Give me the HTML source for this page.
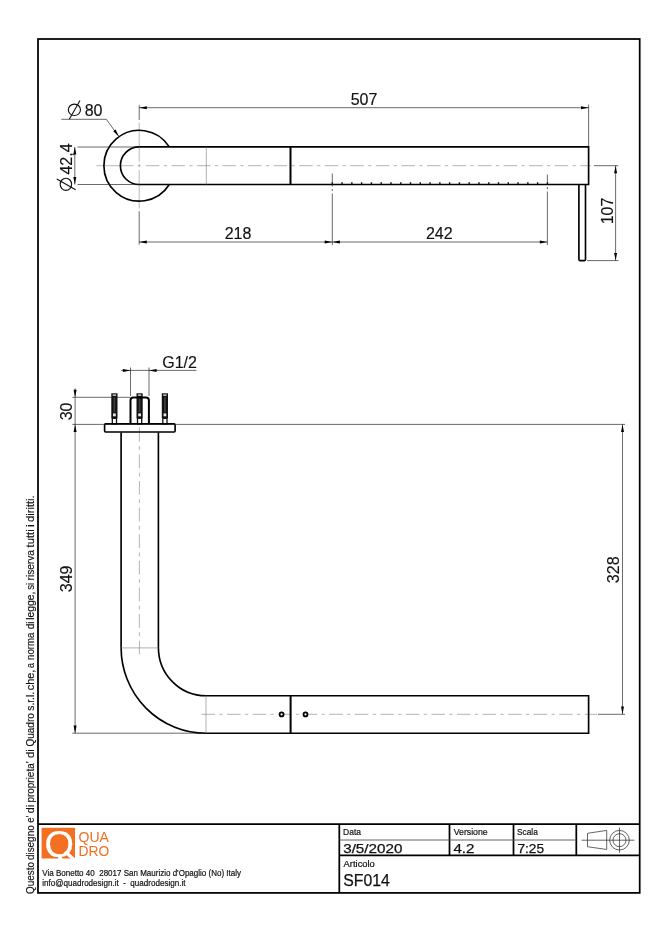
<!DOCTYPE html>
<html lang="it">
<head>
<meta charset="utf-8">
<title>SF014 - Quadro</title>
<style>
html,body{margin:0;padding:0;background:#fff;}
body{width:665px;height:940px;overflow:hidden;position:relative;}
svg{position:absolute;left:0;top:0;display:block;will-change:transform;}
text{font-family:"Liberation Sans",sans-serif;fill:#111;}
.dim{stroke:#111;stroke-width:0.15;}
.dim{font-size:16px;}
.thick{stroke:#000;stroke-width:1.65;fill:none;stroke-linecap:butt;stroke-linejoin:miter;}
.xthick{stroke:#000;stroke-width:2;fill:none;}
.thin{stroke:#1a1a1a;stroke-width:0.65;fill:none;}
.grey{stroke:#858585;stroke-width:0.65;fill:none;}
.cl{stroke:#8c8c8c;stroke-width:0.65;fill:none;stroke-dasharray:13.5 4.4 3.2 4.45;}
.cls{stroke:#8c8c8c;stroke-width:0.6;fill:none;}
.frame{stroke:#000;stroke-width:1.75;fill:none;}
.arr{fill:#000;stroke:none;}
.lbl{font-size:8.7px;stroke:#111;stroke-width:0.2;}
.note text{font-size:10.3px;stroke:#111;stroke-width:0.15;}
.val{stroke:#111;stroke-width:0.25;}
</style>
</head>
<body>
<svg width="665" height="940" viewBox="0 0 665 940">
<defs>
  <!-- arrow head pointing to +x, tip at 0,0 -->
  <path id="ah" d="M0 0 L-7.6 -1.5 L-7.6 1.5 Z"/>
</defs>

<!-- ================= FRAME ================= -->
<g id="frame">
  <rect class="frame" x="38" y="39" width="601.7" height="853.9"/>
  <line class="frame" x1="38" y1="824" x2="639.7" y2="824"/>
  <line class="frame" x1="339.3" y1="824" x2="339.3" y2="892.9"/>
  <line class="frame" x1="339.3" y1="855.3" x2="639.7" y2="855.3"/>
  <line class="frame" x1="449.5" y1="824" x2="449.5" y2="855.3"/>
  <line class="frame" x1="513.5" y1="824" x2="513.5" y2="855.3"/>
  <line class="frame" x1="576.3" y1="824" x2="576.3" y2="855.3"/>
  <line x1="339.3" y1="840" x2="576.3" y2="840" stroke="#555" stroke-width="0.9"/>
</g>

<!-- ================= TOP VIEW ================= -->
<g id="topview">
  <!-- centre lines -->
  <line class="cls" x1="96.3" y1="165.7" x2="133.6" y2="165.7"/>
  <line class="cls" x1="137.6" y1="165.7" x2="140.8" y2="165.7"/>
  <line class="cl" x1="145.9" y1="165.7" x2="591" y2="165.7"/>
  <line class="cls" x1="139.2" y1="122.5" x2="139.2" y2="161.5"/>
  <line class="cls" x1="139.2" y1="164.2" x2="139.2" y2="167.2"/>
  <line class="cls" x1="139.2" y1="170" x2="139.2" y2="208.5"/>
  <!-- flange circle -->
  <path class="thick" d="M169.3 146.9 A35.4 35.4 0 1 0 169.3 184.5"/>
  <!-- tube -->
  <path class="thick" d="M139.2 146.9 A18.8 18.8 0 0 0 139.2 184.5"/>
  <path class="thick" d="M139.2 146.9 H588.6 V184.5 H139.2"/>
  <line class="grey" x1="206.3" y1="146.9" x2="206.3" y2="184.5"/>
  <line class="xthick" x1="290.5" y1="146.9" x2="290.5" y2="184.5"/>
  <!-- spout -->
  <path class="thick" d="M578.9 184.5 V259.6 Q578.9 260.6 579.9 260.6 H584.5 Q585.5 260.6 585.5 259.6 V184.5"/>
  <!-- nozzles -->
  <g id="nozzles" fill="#000">
    <rect x="331.60" y="182.3" width="1.4" height="1.6" />
    <rect x="341.38" y="182.3" width="1.4" height="1.6" />
    <rect x="351.15" y="182.3" width="1.4" height="1.6" />
    <rect x="360.93" y="182.3" width="1.4" height="1.6" />
    <rect x="370.71" y="182.3" width="1.4" height="1.6" />
    <rect x="380.49" y="182.3" width="1.4" height="1.6" />
    <rect x="390.26" y="182.3" width="1.4" height="1.6" />
    <rect x="400.04" y="182.3" width="1.4" height="1.6" />
    <rect x="409.82" y="182.3" width="1.4" height="1.6" />
    <rect x="419.60" y="182.3" width="1.4" height="1.6" />
    <rect x="429.37" y="182.3" width="1.4" height="1.6" />
    <rect x="439.15" y="182.3" width="1.4" height="1.6" />
    <rect x="448.93" y="182.3" width="1.4" height="1.6" />
    <rect x="458.70" y="182.3" width="1.4" height="1.6" />
    <rect x="468.48" y="182.3" width="1.4" height="1.6" />
    <rect x="478.26" y="182.3" width="1.4" height="1.6" />
    <rect x="488.04" y="182.3" width="1.4" height="1.6" />
    <rect x="497.81" y="182.3" width="1.4" height="1.6" />
    <rect x="507.59" y="182.3" width="1.4" height="1.6" />
    <rect x="517.37" y="182.3" width="1.4" height="1.6" />
    <rect x="527.15" y="182.3" width="1.4" height="1.6" />
    <rect x="536.92" y="182.3" width="1.4" height="1.6" />
    <rect x="546.70" y="182.3" width="1.4" height="1.6" />
  </g>
</g>

<!-- ================= TOP VIEW DIMENSIONS ================= -->
<g id="topdims">
  <!-- 507 -->
  <line class="thin" x1="139.2" y1="107.7" x2="588.6" y2="107.7"/>
  <line class="thin" x1="588.6" y1="104.5" x2="588.6" y2="146.9"/>
  <line class="thin" x1="139.2" y1="105" x2="139.2" y2="120"/>
  <line class="thin" x1="139.2" y1="211.2" x2="139.2" y2="244.6"/>
  <line class="thin" x1="593.9" y1="165.7" x2="618.3" y2="165.7"/>
  <use href="#ah" class="arr" transform="translate(588.6 107.7)"/>
  <use href="#ah" class="arr" transform="translate(139.2 107.7) rotate(180)"/>
  <text class="dim" x="364" y="104.7" text-anchor="middle">507</text>
  <!-- 218 / 242 -->
  <line class="thin" x1="139.2" y1="242" x2="547.4" y2="242"/>
  <line class="thin" x1="332.3" y1="173.5" x2="332.3" y2="245" stroke-dasharray="13 2.5 2 2.5 200"/>
  <line class="thin" x1="547.4" y1="174.5" x2="547.4" y2="245" stroke-dasharray="10 2.5 2 2.5 200"/>
  <use href="#ah" class="arr" transform="translate(139.2 242) rotate(180)"/>
  <use href="#ah" class="arr" transform="translate(332.3 242)"/>
  <use href="#ah" class="arr" transform="translate(332.3 242) rotate(180)"/>
  <use href="#ah" class="arr" transform="translate(547.4 242)"/>
  <text class="dim" x="238" y="238.8" text-anchor="middle">218</text>
  <text class="dim" x="439.3" y="238.8" text-anchor="middle">242</text>
  <!-- 107 -->
  <line class="thin" x1="615.6" y1="165.7" x2="615.6" y2="260.6"/>
  <line class="thin" x1="587" y1="260.6" x2="618.5" y2="260.6"/>
  <use href="#ah" class="arr" transform="translate(615.6 165.7) rotate(-90)"/>
  <use href="#ah" class="arr" transform="translate(615.6 260.6) rotate(90)"/>
  <text class="dim" transform="translate(613.2 211) rotate(-90)" text-anchor="middle">107</text>
  <!-- diameter 80 -->
  <path class="thin" d="M61.3 119.3 H106.3 L118.6 136.2"/>
  <use href="#ah" class="arr" transform="translate(118.9 136.6) rotate(54)"/>
  <ellipse cx="74.4" cy="109.8" rx="6.1" ry="5.7" fill="none" stroke="#111" stroke-width="1.15"/>
  <line x1="69.3" y1="119.3" x2="80" y2="100.6" stroke="#111" stroke-width="1.1"/>
  <text class="dim" x="84.7" y="116.2">80</text>
  <!-- diameter 42,4 -->
  <line class="thin" x1="74.8" y1="147" x2="74.8" y2="184.5"/>
  <line class="thin" x1="77.5" y1="147" x2="139.2" y2="147"/>
  <line class="thin" x1="77.5" y1="184.5" x2="139.2" y2="184.5"/>
  <use href="#ah" class="arr" transform="translate(74.8 147) rotate(-90)"/>
  <use href="#ah" class="arr" transform="translate(74.8 184.5) rotate(90)"/>
  <ellipse cx="65.9" cy="184.3" rx="5.7" ry="6.1" fill="none" stroke="#111" stroke-width="1.15"/>
  <line x1="75.6" y1="189.7" x2="56.8" y2="178.9" stroke="#111" stroke-width="1.1"/>
  <text class="dim" transform="translate(72.2 174.6) rotate(-90)">42,4</text>
</g>

<!-- ================= FRONT VIEW ================= -->
<g id="frontview">
  <!-- centre lines -->
  <line class="cl" x1="139.4" y1="427.2" x2="139.4" y2="656" style="stroke-dasharray:14.4 4.45 3.9 4.45 13.8 4.45 3.9 4.45 13.8 4.45 3.9 4.45 13.8 4.45 3.9 4.45 13.8 4.45 3.9 4.45 13.8 4.45 3.9 4.45 13.8 4.45 3.9 4.45 13.8 4.45 3.9 4.45 13.8 4.45 3.9 4.45 13.8 4.45 3.9 4.45"/>
  <line class="cl" x1="201.5" y1="714.3" x2="597" y2="714.3"/>
  <!-- bolts -->
  <g id="bolts">
    <g transform="translate(114.4 0)">
      <rect x="-3.1" y="393.3" width="6.2" height="25" fill="#111"/>
      <rect x="-1.7" y="394.3" width="3.4" height="1.7" fill="#b5b5b5"/>
      <rect x="-0.9" y="397.2" width="1.8" height="15" fill="#3c3c3c"/>
      <rect x="-1.4" y="413.4" width="2.8" height="2.9" fill="#e4e4e4"/>
      <rect x="-2.1" y="418.3" width="4.2" height="5.7" fill="#fff" stroke="#111" stroke-width="1.3"/>
    </g>
    <g transform="translate(139.6 0)">
      <rect x="-3.1" y="393.3" width="6.2" height="25" fill="#111"/>
      <rect x="-1.7" y="394.3" width="3.4" height="1.7" fill="#b5b5b5"/>
      <rect x="-0.9" y="397.2" width="1.8" height="15" fill="#3c3c3c"/>
      <rect x="-1.4" y="413.4" width="2.8" height="2.9" fill="#e4e4e4"/>
      <rect x="-2.1" y="418.3" width="4.2" height="5.7" fill="#fff" stroke="#111" stroke-width="1.3"/>
    </g>
    <g transform="translate(164.9 0)">
      <rect x="-3.1" y="393.3" width="6.2" height="25" fill="#111"/>
      <rect x="-1.7" y="394.3" width="3.4" height="1.7" fill="#b5b5b5"/>
      <rect x="-0.9" y="397.2" width="1.8" height="15" fill="#3c3c3c"/>
      <rect x="-1.4" y="413.4" width="2.8" height="2.9" fill="#e4e4e4"/>
      <rect x="-2.1" y="418.3" width="4.2" height="5.7" fill="#fff" stroke="#111" stroke-width="1.3"/>
    </g>
  </g>
  <!-- G1/2 inlet pipe -->
  <path class="thick" style="stroke-width:2" d="M130.5 424 V400.3 Q130.5 397.4 133.4 397.4 H146 Q148.9 397.4 148.9 400.3 V424"/>
  <!-- flange -->
  <rect class="thick" x="104.6" y="423.9" width="70.5" height="8.1" rx="1" ry="1" fill="#fff"/>
  <!-- tube -->
  <path class="thick" d="M121.1 432.5 V647.4 A84.9 85.8 0 0 0 206 733.2 H588.6 V695.7 H206 A47.6 48.3 0 0 1 158.4 647.4 V432.5"/>
  <line class="grey" x1="121.1" y1="647.9" x2="158.4" y2="647.9"/>
  <line class="grey" x1="206" y1="695.7" x2="206" y2="733.2"/>
  <line class="xthick" x1="290.6" y1="695.7" x2="290.6" y2="733.2"/>
  <circle cx="281.6" cy="714.4" r="1.95" fill="#fff" stroke="#000" stroke-width="1.8"/>
  <circle cx="305.5" cy="714.4" r="1.95" fill="#fff" stroke="#000" stroke-width="1.8"/>
</g>

<!-- ================= FRONT VIEW DIMENSIONS ================= -->
<g id="frontdims">
  <!-- G1/2 -->
  <line class="thin" x1="121.2" y1="370.4" x2="196.4" y2="370.4"/>
  <line class="thin" x1="130.5" y1="367.5" x2="130.5" y2="396"/>
  <line class="thin" x1="149" y1="367.5" x2="149" y2="396"/>
  <use href="#ah" class="arr" transform="translate(130.5 370.4)"/>
  <use href="#ah" class="arr" transform="translate(149 370.4) rotate(180)"/>
  <text class="dim" x="162.2" y="367.7">G1/2</text>
  <!-- 30 / 349 -->
  <line class="thin" x1="75.1" y1="388.3" x2="75.1" y2="733.2"/>
  <line class="thin" x1="72.3" y1="397.3" x2="130.4" y2="397.3"/>
  <line class="thin" x1="72.3" y1="424.4" x2="625" y2="424.4"/>
  <line class="thin" x1="72.3" y1="733.2" x2="206" y2="733.2"/>
  <use href="#ah" class="arr" transform="translate(75.1 397.3) rotate(90)"/>
  <use href="#ah" class="arr" transform="translate(75.1 424.4) rotate(-90)"/>
  <use href="#ah" class="arr" transform="translate(75.1 733.2) rotate(90)"/>
  <text class="dim" transform="translate(72 411.4) rotate(-90)" text-anchor="middle">30</text>
  <text class="dim" transform="translate(71.8 578.9) rotate(-90)" text-anchor="middle">349</text>
  <!-- 328 -->
  <line class="thin" x1="622.5" y1="424.4" x2="622.5" y2="714.3"/>
  <line class="thin" x1="598" y1="714.3" x2="625" y2="714.3"/>
  <use href="#ah" class="arr" transform="translate(622.5 424.4) rotate(-90)"/>
  <use href="#ah" class="arr" transform="translate(622.5 714.2) rotate(90)"/>
  <text class="dim" transform="translate(619.3 569.8) rotate(-90)" text-anchor="middle">328</text>
</g>

<!-- ================= TITLE BLOCK ================= -->
<g id="titleblock">
  <!-- logo -->
  <rect x="41.6" y="827.8" width="33.4" height="30.7" fill="#f36f21"/>
  <svg x="41.6" y="827.8" width="33.4" height="30.7" viewBox="41.6 827.8 33.4 30.7" overflow="hidden">
    <text transform="translate(59.1 856.6) scale(1.02 1)" text-anchor="middle" style="font-size:37.1px;fill:#fff;stroke:#fff;stroke-width:0.2">Q</text>
    <line x1="65.1" y1="851.8" x2="76" y2="861.3" stroke="#fff" stroke-width="3.2"/>
  </svg>
  <text x="78.5" y="841.5" style="font-size:14.2px;fill:#f36f21" textLength="30.4" lengthAdjust="spacingAndGlyphs">QUA</text>
  <text x="78.5" y="856" style="font-size:14.2px;fill:#f36f21" textLength="30.8" lengthAdjust="spacingAndGlyphs">DRO</text>
  <!-- address -->
  <text class="lbl" x="42.3" y="876.2" textLength="198.7" lengthAdjust="spacingAndGlyphs" xml:space="preserve">Via Bonetto 40  28017 San Maurizio d'Opaglio (No) Italy</text>
  <text class="lbl" x="42.3" y="886.3" textLength="143.2" lengthAdjust="spacingAndGlyphs" xml:space="preserve">info@quadrodesign.it  -  quadrodesign.it</text>
  <!-- fields -->
  <text class="lbl" x="343" y="835.3" textLength="18" lengthAdjust="spacingAndGlyphs">Data</text>
  <text class="lbl" x="453.7" y="835.3" textLength="34" lengthAdjust="spacingAndGlyphs">Versione</text>
  <text class="lbl" x="517.1" y="835.3" textLength="20.7" lengthAdjust="spacingAndGlyphs">Scala</text>
  <text class="lbl" x="343.6" y="867" textLength="31.2" lengthAdjust="spacingAndGlyphs">Articolo</text>
  <text class="val" x="343.2" y="853.2" style="font-size:12.2px" textLength="59.2" lengthAdjust="spacingAndGlyphs">3/5/2020</text>
  <text class="val" x="453.4" y="853.2" style="font-size:12.2px" textLength="21" lengthAdjust="spacingAndGlyphs">4.2</text>
  <text class="val" x="517.4" y="853.2" style="font-size:12.2px" textLength="26.6" lengthAdjust="spacingAndGlyphs">7:25</text>
  <text class="val" x="343.2" y="886.1" style="font-size:16.8px" textLength="46.6" lengthAdjust="spacingAndGlyphs">SF014</text>
  <!-- projection symbol -->
  <g stroke="#222" stroke-width="0.7" fill="none">
    <line x1="581.6" y1="840.2" x2="634.4" y2="840.2"/>
    <path d="M587.5 833.3 L606.7 830.4 V849.5 L587.5 846.7 Z"/>
    <circle cx="619.5" cy="840.2" r="9.8"/>
    <circle cx="619.5" cy="840.2" r="6.5"/>
    <line x1="619.5" y1="827.6" x2="619.5" y2="852.7"/>
  </g>
</g>

<!-- ================= SIDE NOTE ================= -->
<g id="sidenote" transform="translate(34 893.6) rotate(-90)" class="note">
  <text y="0"><tspan x="-0.4" textLength="32.1" lengthAdjust="spacingAndGlyphs">Questo</tspan> <tspan x="33.5" textLength="34.8" lengthAdjust="spacingAndGlyphs">disegno</tspan> <tspan x="70.9" textLength="7.1" lengthAdjust="spacingAndGlyphs">e'</tspan> <tspan x="80.4" textLength="8.3" lengthAdjust="spacingAndGlyphs">di</tspan> <tspan x="91.0" textLength="41.2" lengthAdjust="spacingAndGlyphs">proprieta'</tspan> <tspan x="135.6" textLength="8.9" lengthAdjust="spacingAndGlyphs">di</tspan> <tspan x="147.0" textLength="33.4" lengthAdjust="spacingAndGlyphs">Quadro</tspan> <tspan x="182.9" textLength="18.7" lengthAdjust="spacingAndGlyphs">s.r.l.</tspan> <tspan x="203.3" textLength="20.6" lengthAdjust="spacingAndGlyphs">che,</tspan> <tspan x="225.6" textLength="5.0" lengthAdjust="spacingAndGlyphs">a</tspan> <tspan x="233.7" textLength="27.2" lengthAdjust="spacingAndGlyphs">norma</tspan> <tspan x="264.3" textLength="7.9" lengthAdjust="spacingAndGlyphs">di</tspan> <tspan x="273.9" textLength="28.2" lengthAdjust="spacingAndGlyphs">legge,</tspan> <tspan x="303.8" textLength="7.0" lengthAdjust="spacingAndGlyphs">si</tspan> <tspan x="313.1" textLength="30.5" lengthAdjust="spacingAndGlyphs">riserva</tspan> <tspan x="346.2" textLength="18.1" lengthAdjust="spacingAndGlyphs">tutti</tspan> <tspan x="366.6" textLength="2.8" lengthAdjust="spacingAndGlyphs">i</tspan> <tspan x="371.7" textLength="26.6" lengthAdjust="spacingAndGlyphs">diritti.</tspan></text>
</g>
</svg>
</body>
</html>
